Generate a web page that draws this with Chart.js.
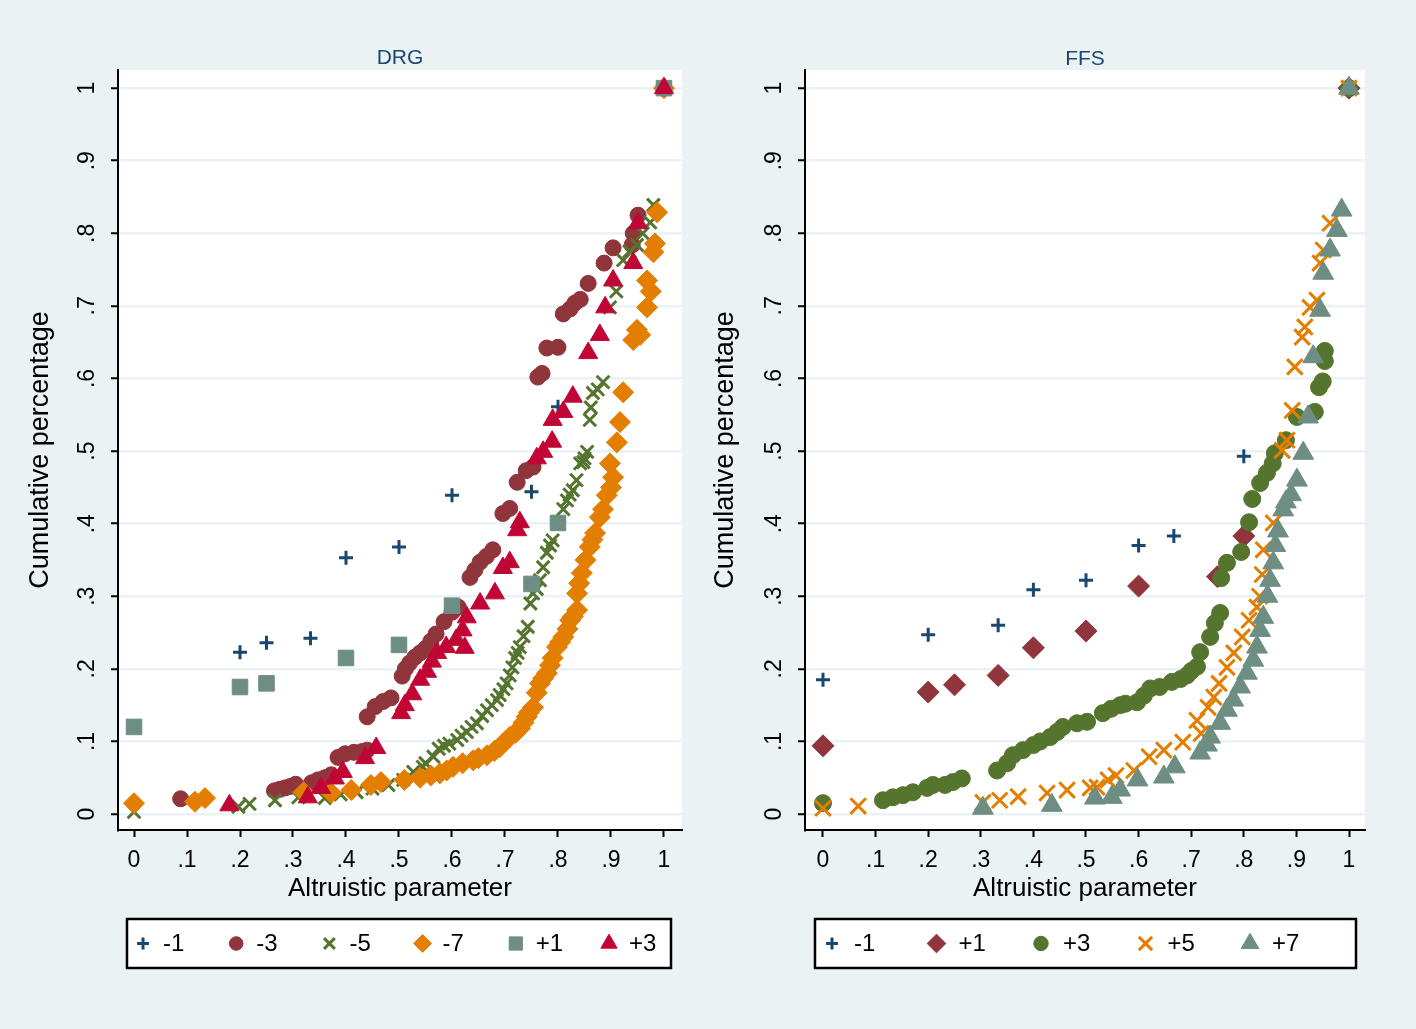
<!DOCTYPE html>
<html>
<head>
<meta charset="utf-8">
<script src="https://cdn.jsdelivr.net/npm/chart.js@4.4.1/dist/chart.umd.min.js"></script>
<style>
  html, body { margin: 0; padding: 0; background: #eaf2f3; }
  #wrap { position: relative; width: 1416px; height: 1029px; background: #eaf2f3; overflow: hidden; }
  .panel { position: absolute; top: 0; width: 708px; height: 1029px; }
</style>
</head>
<body>
<div id="wrap">
  <div class="panel" style="left:0"><canvas id="drgChart" width="708" height="1029"></canvas></div>
  <div class="panel" style="left:708px"><canvas id="ffsChart" width="708" height="1029"></canvas></div>
</div>
<script>
// axis ticks (same on both axes)
const tickValues = [0, 0.1, 0.2, 0.3, 0.4, 0.5, 0.6, 0.7, 0.8, 0.9, 1];
const tickLabels = ['0', '.1', '.2', '.3', '.4', '.5', '.6', '.7', '.8', '.9', '1'];

// DRG panel: [altruistic parameter, cumulative percentage]
const drgLabels = ['-1', '-3', '-5', '-7', '+1', '+3'];
const drgMinus1 = [[0.2,0.223],[0.25,0.236],[0.333,0.242],[0.4,0.353],[0.5,0.368],[0.6,0.439],[0.75,0.444],[0.8,0.561],[1,1]];
const drgMinus3 = [[0.088,0.021],[0.265,0.032],[0.275,0.034],[0.285,0.036],[0.295,0.038],[0.305,0.041],[0.335,0.043],[0.347,0.047],
  [0.36,0.05],[0.372,0.054],[0.385,0.078],[0.398,0.083],[0.415,0.085],[0.43,0.086],[0.44,0.088],[0.44,0.134],[0.455,0.148],
  [0.47,0.155],[0.485,0.16],[0.506,0.19],[0.512,0.2],[0.52,0.208],[0.53,0.216],[0.54,0.222],[0.55,0.228],[0.56,0.238],
  [0.57,0.248],[0.585,0.265],[0.6,0.278],[0.612,0.285],[0.634,0.326],[0.643,0.336],[0.653,0.347],[0.665,0.355],[0.677,0.364],
  [0.696,0.414],[0.709,0.421],[0.723,0.457],[0.74,0.473],[0.753,0.478],[0.762,0.602],[0.77,0.607],[0.779,0.642],[0.8,0.643],
  [0.81,0.689],[0.823,0.696],[0.832,0.704],[0.842,0.709],[0.857,0.731],[0.887,0.759],[0.904,0.78],[0.94,0.784],[0.942,0.8],
  [0.951,0.825],[1,1]];
const drgMinus5 = [[0,0.003],[0.197,0.01],[0.218,0.014],[0.266,0.019],[0.31,0.023],[0.36,0.022],[0.39,0.027],[0.42,0.03],
  [0.45,0.035],[0.48,0.04],[0.508,0.047],[0.527,0.058],[0.545,0.065],[0.55,0.07],[0.565,0.079],[0.575,0.09],[0.585,0.094],
  [0.595,0.097],[0.61,0.102],[0.618,0.108],[0.628,0.113],[0.637,0.12],[0.647,0.125],[0.657,0.135],[0.666,0.143],[0.675,0.15],
  [0.685,0.157],[0.69,0.164],[0.697,0.172],[0.703,0.18],[0.709,0.191],[0.714,0.202],[0.719,0.215],[0.724,0.222],[0.728,0.23],
  [0.735,0.245],[0.743,0.258],[0.748,0.29],[0.753,0.304],[0.76,0.31],[0.766,0.322],[0.772,0.34],[0.779,0.36],[0.785,0.37],
  [0.79,0.377],[0.8,0.4],[0.81,0.42],[0.817,0.432],[0.822,0.44],[0.828,0.446],[0.835,0.46],[0.842,0.483],[0.848,0.485],
  [0.85,0.49],[0.855,0.499],[0.86,0.543],[0.862,0.56],[0.866,0.58],[0.875,0.585],[0.885,0.595],[0.898,0.698],[0.91,0.72],
  [0.923,0.763],[0.935,0.775],[0.949,0.784],[0.96,0.8],[0.974,0.815],[0.98,0.839],[1,1]];
const drgMinus7 = [[0,0.015],[0.115,0.017],[0.134,0.022],[0.32,0.03],[0.372,0.029],[0.41,0.033],[0.447,0.04],[0.466,0.044],
  [0.51,0.047],[0.54,0.05],[0.56,0.053],[0.577,0.056],[0.59,0.06],[0.602,0.065],[0.62,0.07],[0.64,0.074],[0.65,0.077],
  [0.666,0.081],[0.68,0.087],[0.69,0.092],[0.7,0.1],[0.709,0.106],[0.72,0.112],[0.728,0.118],[0.735,0.126],[0.741,0.134],
  [0.745,0.14],[0.753,0.147],[0.76,0.167],[0.766,0.18],[0.772,0.187],[0.779,0.194],[0.785,0.205],[0.79,0.215],[0.798,0.23],
  [0.804,0.237],[0.81,0.244],[0.818,0.255],[0.823,0.267],[0.828,0.272],[0.836,0.281],[0.836,0.304],[0.84,0.318],[0.845,0.332],
  [0.852,0.35],[0.86,0.368],[0.865,0.378],[0.87,0.387],[0.879,0.409],[0.885,0.42],[0.892,0.439],[0.9,0.45],[0.904,0.464],
  [0.898,0.483],[0.911,0.512],[0.917,0.54],[0.923,0.581],[0.942,0.653],[0.949,0.667],[0.955,0.66],[0.968,0.698],[0.975,0.72],
  [0.968,0.735],[0.98,0.774],[0.983,0.786],[0.987,0.829],[1,1]];
const drgPlus1 = [[0,0.12],[0.2,0.175],[0.25,0.18],[0.4,0.215],[0.5,0.233],[0.6,0.287],[0.75,0.317],[0.8,0.401],[1,1]];
const drgPlus3 = [[0.18,0.012],[0.328,0.023],[0.353,0.036],[0.379,0.049],[0.394,0.058],[0.436,0.077],[0.457,0.091],
  [0.504,0.139],[0.511,0.15],[0.525,0.165],[0.54,0.185],[0.553,0.196],[0.562,0.21],[0.572,0.222],[0.589,0.23],[0.608,0.24],
  [0.62,0.253],[0.624,0.229],[0.628,0.271],[0.653,0.29],[0.681,0.304],[0.696,0.339],[0.709,0.347],[0.723,0.391],[0.728,0.402],
  [0.76,0.49],[0.772,0.499],[0.789,0.513],[0.79,0.543],[0.81,0.554],[0.828,0.575],[0.857,0.635],[0.879,0.66],[0.889,0.698],
  [0.904,0.735],[0.942,0.759],[0.951,0.814],[1,1]];

// FFS panel
const ffsLabels = ['-1', '+1', '+3', '+5', '+7'];
const ffsMinus1 = [[0,0.185],[0.2,0.247],[0.333,0.26],[0.4,0.309],[0.5,0.322],[0.6,0.37],[0.667,0.383],[0.8,0.493],[1,1]];
const ffsPlus1 = [[0,0.094],[0.2,0.168],[0.25,0.178],[0.333,0.191],[0.4,0.229],[0.5,0.252],[0.6,0.314],[0.75,0.327],[0.8,0.383],[1,1]];
const ffsPlus3 = [[0,0.015],[0.114,0.019],[0.133,0.023],[0.152,0.026],[0.171,0.03],[0.198,0.036],[0.209,0.04],[0.232,0.04],
  [0.247,0.044],[0.264,0.049],[0.331,0.06],[0.35,0.07],[0.361,0.081],[0.38,0.088],[0.4,0.095],[0.413,0.1],[0.432,0.106],
  [0.445,0.113],[0.456,0.12],[0.483,0.125],[0.502,0.127],[0.532,0.139],[0.548,0.145],[0.565,0.15],[0.575,0.152],[0.597,0.154],
  [0.61,0.163],[0.622,0.173],[0.64,0.175],[0.663,0.182],[0.68,0.186],[0.692,0.191],[0.7,0.197],[0.711,0.203],[0.717,0.223],
  [0.736,0.244],[0.745,0.263],[0.755,0.277],[0.757,0.325],[0.768,0.346],[0.795,0.361],[0.81,0.402],[0.816,0.434],[0.831,0.456],
  [0.844,0.47],[0.855,0.483],[0.859,0.497],[0.88,0.515],[0.901,0.547],[0.935,0.554],[0.943,0.588],[0.95,0.596],[0.954,0.624],
  [0.954,0.638],[1,1]];
const ffsPlus5 = [[0,0.008],[0.067,0.011],[0.304,0.016],[0.336,0.019],[0.371,0.024],[0.426,0.029],[0.464,0.033],[0.508,0.036],
  [0.521,0.037],[0.542,0.047],[0.557,0.053],[0.591,0.06],[0.62,0.079],[0.648,0.088],[0.684,0.099],[0.711,0.129],[0.719,0.111],
  [0.732,0.147],[0.743,0.161],[0.753,0.18],[0.768,0.202],[0.781,0.222],[0.797,0.244],[0.81,0.267],[0.825,0.285],[0.83,0.3],
  [0.835,0.33],[0.837,0.364],[0.856,0.401],[0.873,0.501],[0.882,0.515],[0.892,0.556],[0.897,0.616],[0.911,0.657],[0.916,0.671],
  [0.926,0.698],[0.939,0.708],[0.945,0.759],[0.951,0.777],[0.964,0.814],[1,1]];
const ffsPlus7 = [[0.304,0.008],[0.435,0.012],[0.517,0.022],[0.549,0.023],[0.565,0.033],[0.598,0.047],[0.648,0.051],[0.669,0.065],
  [0.717,0.084],[0.73,0.095],[0.736,0.106],[0.755,0.125],[0.768,0.143],[0.78,0.157],[0.793,0.175],[0.806,0.194],[0.818,0.212],
  [0.825,0.23],[0.831,0.253],[0.837,0.271],[0.845,0.3],[0.85,0.322],[0.856,0.346],[0.86,0.37],[0.865,0.39],[0.875,0.419],
  [0.88,0.43],[0.89,0.44],[0.901,0.46],[0.913,0.497],[0.922,0.547],[0.932,0.63],[0.945,0.694],[0.951,0.745],[0.964,0.777],
  [0.977,0.804],[0.986,0.832],[1,1]];

const NAVY = '#1a476f', MAROON = '#90353b', GREEN = '#55752f', ORANGE = '#e37e00', TEAL = '#6e8e84', CRANBERRY = '#c10534';
const BG = '#eaf2f3';
const FONT = '"Liberation Sans", Arial, Helvetica, sans-serif';

function makeDataset(label, data, style, color, radius) {
    const isLine = style === 'cross' || style === 'crossRot';
    return {
        label: label,
        data: data.map(p => ({ x: p[0], y: p[1] })),
        pointStyle: style,
        pointRadius: radius,
        pointHoverRadius: radius,
        backgroundColor: color,
        borderColor: color,
        borderWidth: isLine ? 3 : 1,
        showLine: false
    };
}

// draws background, text, and the boxed legend the way Stata does
const stataPlugin = {
    id: 'stata',
    beforeDraw(chart) {
        const { ctx, chartArea: a } = chart;
        ctx.save();
        ctx.fillStyle = BG;
        ctx.fillRect(0, 0, chart.width, chart.height);
        ctx.fillStyle = '#ffffff';
        ctx.fillRect(a.left, a.top, a.right - a.left, a.bottom - a.top);
        ctx.restore();
    },
    afterDraw(chart, args, o) {
        const { ctx, chartArea: a } = chart;
        const xs = chart.scales.x, ys = chart.scales.y;
        const cx = (a.left + a.right) / 2;
        ctx.save();
        ctx.fillStyle = '#000';
        ctx.textAlign = 'center';

        // x tick labels
        ctx.font = `23px ${FONT}`;
        ctx.textBaseline = 'middle';
        tickValues.forEach((v, i) => ctx.fillText(tickLabels[i], xs.getPixelForValue(v), o.xTickY));

        // y tick labels, rotated
        tickValues.forEach((v, i) => {
            ctx.save();
            ctx.translate(o.yTickX, ys.getPixelForValue(v));
            ctx.rotate(-Math.PI / 2);
            ctx.fillText(tickLabels[i], 0, 0);
            ctx.restore();
        });

        // axis titles
        ctx.font = `26px ${FONT}`;
        ctx.fillText('Altruistic parameter', cx, o.xTitleY);
        ctx.save();
        ctx.translate(o.yTitleX, (a.top + a.bottom) / 2);
        ctx.rotate(-Math.PI / 2);
        ctx.font = `27px ${FONT}`;
        ctx.fillText('Cumulative percentage', 0, 0);
        ctx.restore();

        // panel title
        ctx.fillStyle = NAVY;
        ctx.font = `21px ${FONT}`;
        ctx.fillText(o.title, cx, o.titleY);

        // legend
        const lg = o.legend;
        ctx.fillStyle = '#fff';
        ctx.fillRect(lg.x, lg.y, lg.w, lg.h);
        ctx.strokeStyle = '#000';
        ctx.lineWidth = 2.5;
        ctx.strokeRect(lg.x, lg.y, lg.w, lg.h);
        const my = lg.y + lg.h / 2;
        ctx.font = `24px ${FONT}`;
        ctx.textAlign = 'left';
        chart.data.datasets.forEach((ds, i) => {
            const mx = lg.x + lg.first + i * lg.step;
            ctx.fillStyle = ds.backgroundColor;
            ctx.strokeStyle = ds.borderColor;
            ctx.lineWidth = ds.borderWidth;
            Chart.helpers.drawPoint(ctx, { pointStyle: ds.pointStyle, radius: ds.pointRadius * 0.85, borderWidth: ds.borderWidth, rotation: 0 }, mx, my);
            ctx.fillStyle = '#000';
            ctx.fillText(ds.label, mx + lg.gap, my + 1);
        });
        ctx.restore();
    }
};

function makePanel(canvasId, datasets, cfg) {
    const n = datasets.length;
    // Stata draws later series on top
    datasets.forEach((ds, i) => { ds.order = n - i; });
    return new Chart(document.getElementById(canvasId), {
        type: 'scatter',
        data: { datasets: datasets },
        options: {
            responsive: false,
            animation: false,
            events: [],
            layout: { padding: { top: 70, right: cfg.rightPad, left: 0, bottom: 0 } },
            plugins: {
                legend: { display: false },
                tooltip: { enabled: false },
                stata: cfg.text
            },
            scales: {
                x: {
                    type: 'linear',
                    min: cfg.xMin,
                    max: cfg.xMax,
                    afterBuildTicks: s => { s.ticks = tickValues.map(v => ({ value: v })); },
                    afterFit: s => { s.height = 199; },
                    ticks: { display: false },
                    grid: { drawOnChartArea: false, tickColor: '#000', tickLength: 7, tickWidth: 2 },
                    border: { display: true, color: '#000', width: 2 }
                },
                y: {
                    type: 'linear',
                    min: -0.022,
                    max: 1.025,
                    afterBuildTicks: s => { s.ticks = tickValues.map(v => ({ value: v })); },
                    afterFit: s => { s.width = cfg.yWidth; },
                    ticks: { display: false },
                    grid: { color: BG, lineWidth: 2.5, tickColor: '#000', tickLength: 7, tickWidth: 2 },
                    border: { display: true, color: '#000', width: 2 }
                }
            }
        },
        plugins: [stataPlugin]
    });
}

makePanel('drgChart', [
    makeDataset(drgLabels[0], drgMinus1, 'cross', NAVY, 7),
    makeDataset(drgLabels[1], drgMinus3, 'circle', MAROON, 8),
    makeDataset(drgLabels[2], drgMinus5, 'crossRot', GREEN, 9),
    makeDataset(drgLabels[3], drgMinus7, 'rectRot', ORANGE, 10.5),
    makeDataset(drgLabels[4], drgPlus1, 'rect', TEAL, 11),
    makeDataset(drgLabels[5], drgPlus3, 'triangle', CRANBERRY, 11)
], {
    rightPad: 26, yWidth: 118, xMin: -0.0302, xMax: 1.034,
    text: {
        title: 'DRG', titleY: 58, xTickY: 861, xTitleY: 889, yTickX: 88, yTitleX: 41,
        legend: { x: 127, y: 919, w: 544, h: 49, first: 16, step: 93.2, gap: 20 }
    }
});

makePanel('ffsChart', [
    makeDataset(ffsLabels[0], ffsMinus1, 'cross', NAVY, 7),
    makeDataset(ffsLabels[1], ffsPlus1, 'rectRot', MAROON, 11),
    makeDataset(ffsLabels[2], ffsPlus3, 'circle', GREEN, 8.5),
    makeDataset(ffsLabels[3], ffsPlus5, 'crossRot', ORANGE, 11),
    makeDataset(ffsLabels[4], ffsPlus7, 'triangle', TEAL, 12)
], {
    rightPad: 51, yWidth: 97, xMin: -0.0342, xMax: 1.0304,
    text: {
        title: 'FFS', titleY: 59, xTickY: 861, xTitleY: 889, yTickX: 67, yTitleX: 18,
        legend: { x: 107, y: 919, w: 541, h: 49, first: 17, step: 104.5, gap: 22 }
    }
});
</script>
</body>
</html>
